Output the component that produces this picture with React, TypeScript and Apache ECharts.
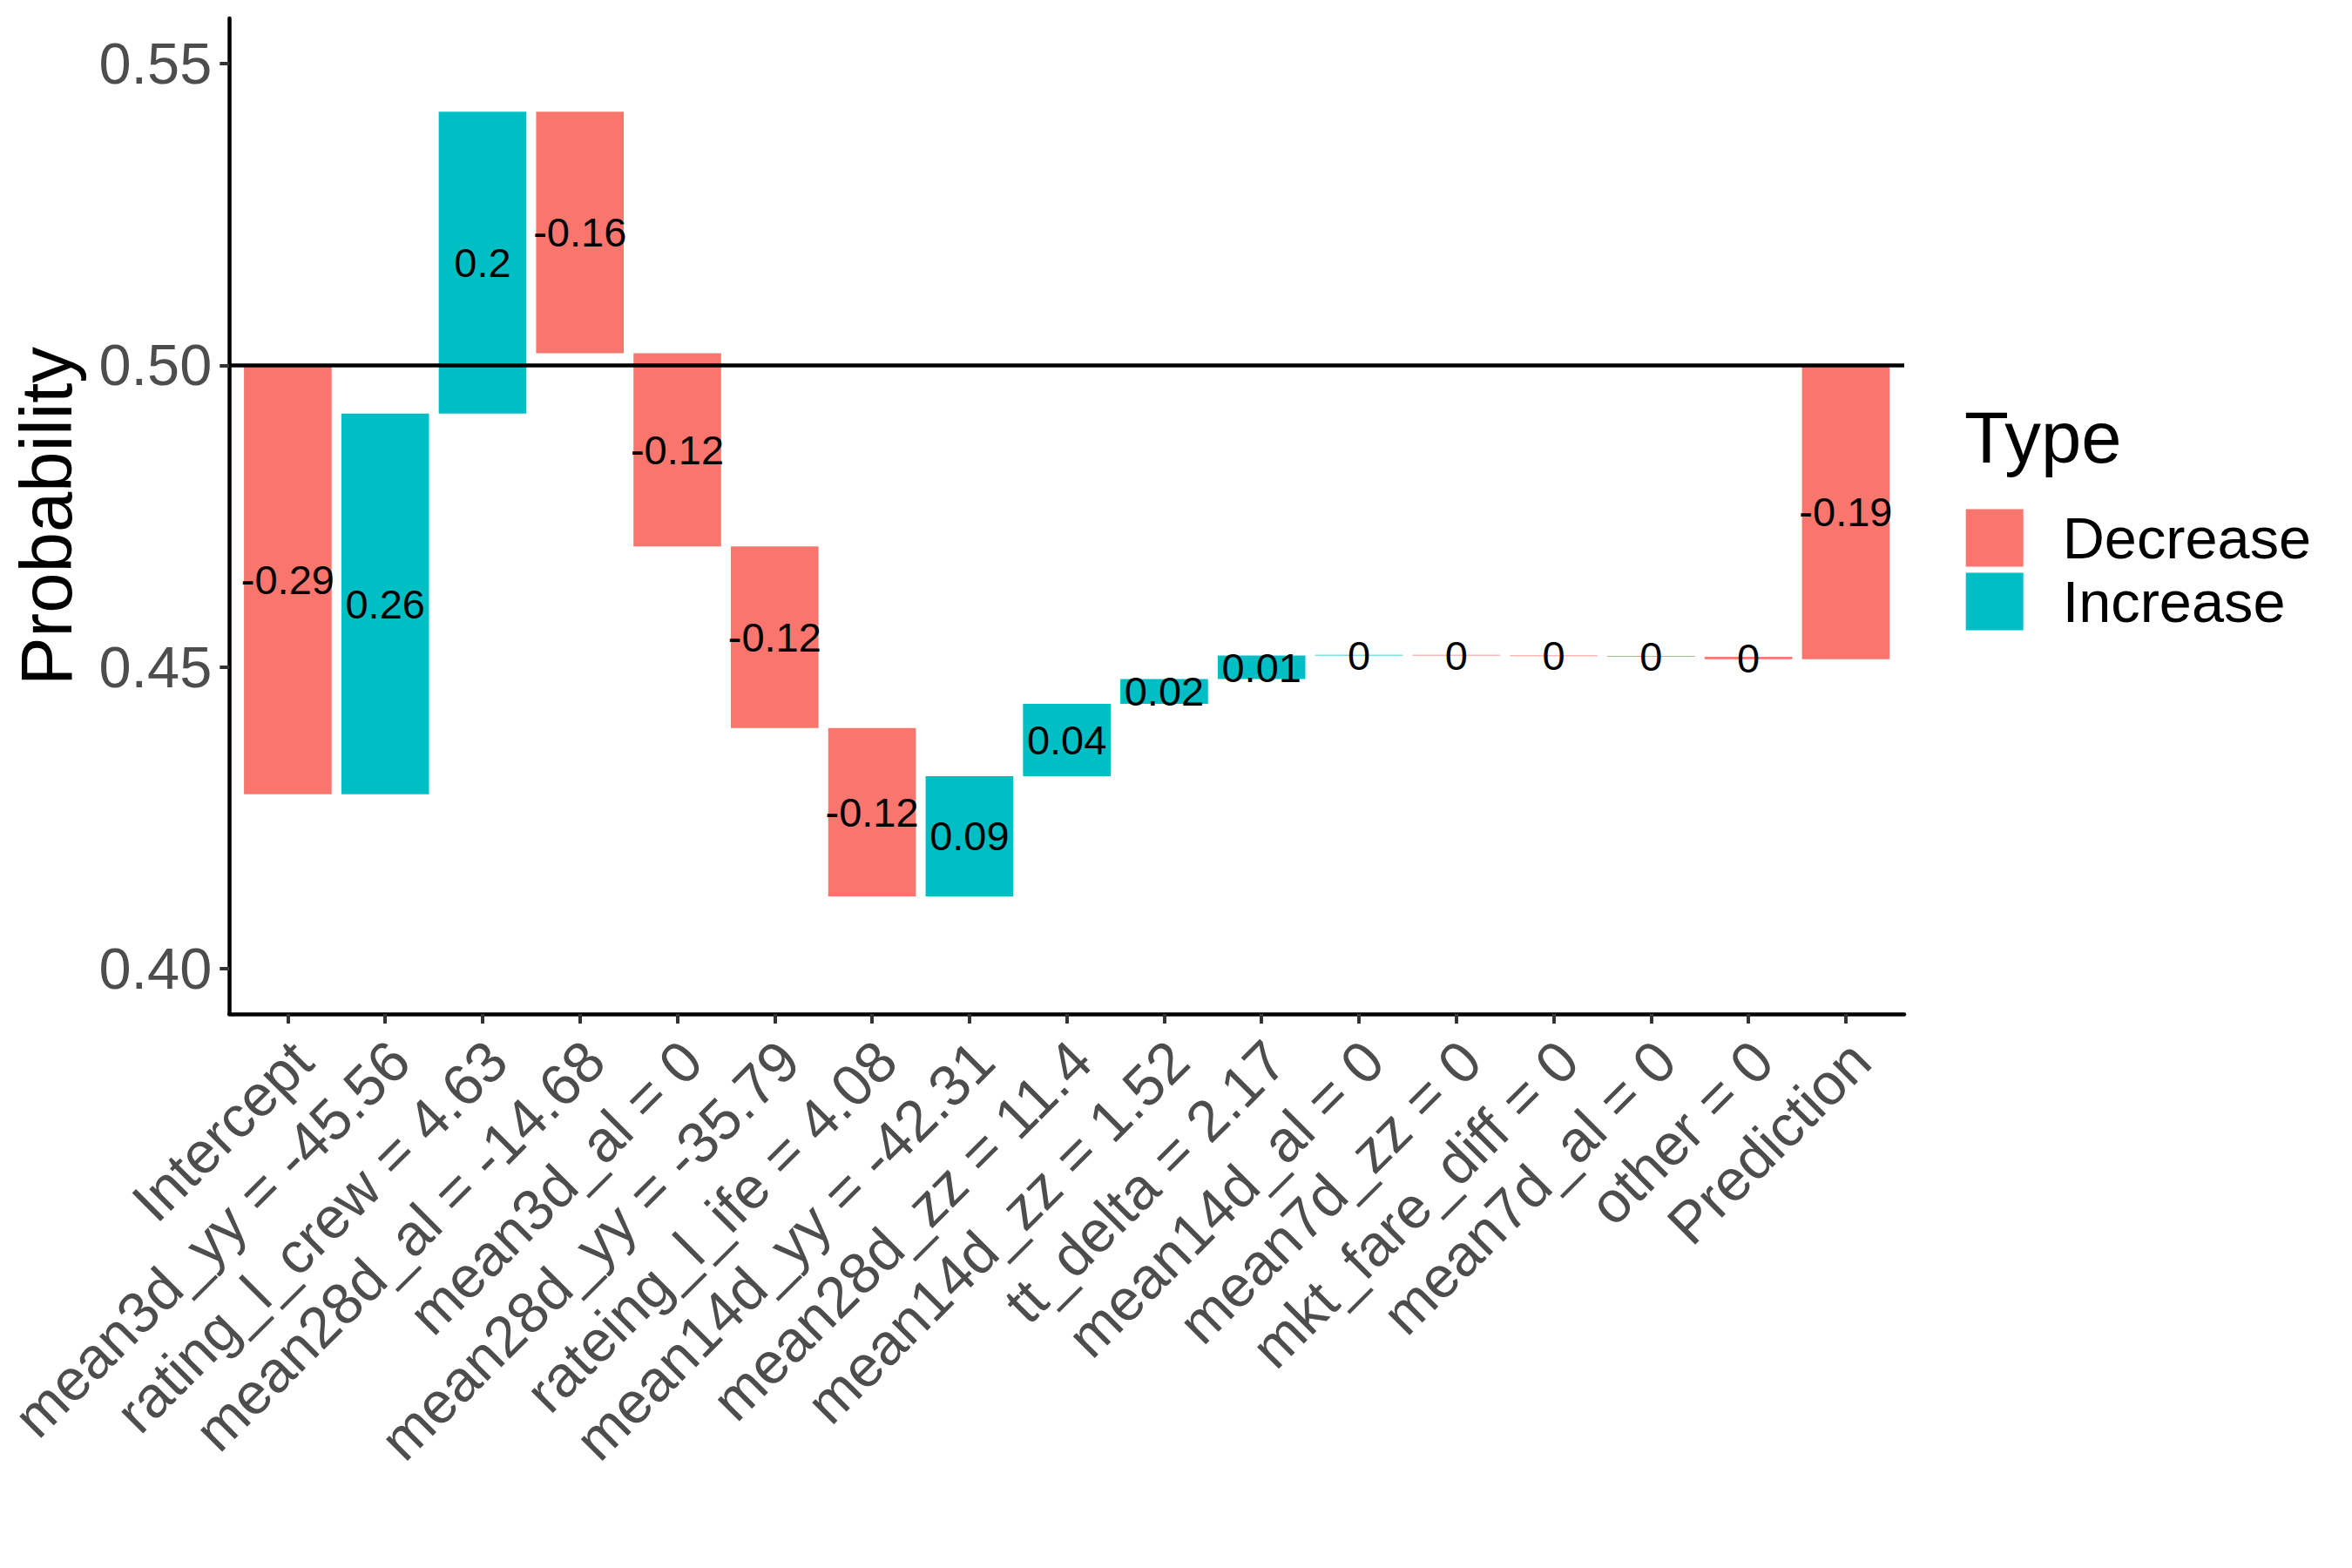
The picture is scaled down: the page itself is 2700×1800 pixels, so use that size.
import React, { useEffect, useRef } from "react";
import * as echarts from "echarts";

const FONT = "'Liberation Sans', Arial, Helvetica, sans-serif";

const categories = [
  "Intercept",
  "mean3d_yy = -45.56",
  "rating_l_crew = 4.63",
  "mean28d_al = -14.68",
  "mean3d_al = 0",
  "mean28d_yy = -35.79",
  "rateing_l_ife = 4.08",
  "mean14d_yy = -42.31",
  "mean28d_zz = 11.4",
  "mean14d_zz = 1.52",
  "tt_delta = 2.17",
  "mean14d_al = 0",
  "mean7d_zz = 0",
  "mkt_fare_diff = 0",
  "mean7d_al = 0",
  "other = 0",
  "Prediction",
];

const barStart = [
  0.5, 0.4289, 0.492, 0.542, 0.502, 0.47, 0.4399, 0.412, 0.4319, 0.4439, 0.448,
  0.4519, 0.452, 0.4519, 0.4518, 0.4517, 0.5,
];
const barEnd = [
  0.4289, 0.492, 0.542, 0.502, 0.47, 0.4399, 0.412, 0.4319, 0.4439, 0.448, 0.4519,
  0.452, 0.4519, 0.4518, 0.4517, 0.4513, 0.4513,
];
const barLabels = [
  "-0.29", "0.26", "0.2", "-0.16", "-0.12", "-0.12", "-0.12", "0.09", "0.04",
  "0.02", "0.01", "0", "0", "0", "0", "0", "-0.19",
];
const barTypes = [
  "Decrease", "Increase", "Increase", "Decrease", "Decrease", "Decrease", "Decrease",
  "Increase", "Increase", "Increase", "Increase", "Increase", "Decrease", "Decrease",
  "Decrease", "Decrease", "Decrease",
];

const typeNames = ["Decrease", "Increase"];
const typeColors = ["#F8766D", "#00BFC4"];

const yTicks = [0.4, 0.45, 0.5, 0.55];
const yMin = 0.3925;
const yMax = 0.5575;
const refLine = 0.5;

const App: React.FC = () => {
  const ref = useRef<HTMLDivElement>(null);

  useEffect(() => {
    if (!ref.current) return;
    const chart = echarts.init(ref.current, null, { renderer: "svg" });

    const series: any[] = typeNames.map((name, k) => ({
      type: "custom",
      name,
      xAxisIndex: 0,
      yAxisIndex: 0,
      itemStyle: { color: typeColors[k] },
      encode: { x: 0, y: [1, 2] },
      data: categories
        .map((_, i) => [i, barStart[i], barEnd[i]])
        .filter((_, i) => barTypes[i] === name),
      renderItem: (params: any, api: any) => {
        const idx = api.value(0);
        const a = api.coord([idx, api.value(1)]);
        const b = api.coord([idx, api.value(2)]);
        const w = api.size([1, 0])[0] * 0.9;
        const top = Math.min(a[1], b[1]);
        const h = Math.abs(a[1] - b[1]);
        return {
          type: "group",
          children: [
            {
              type: "rect",
              shape: { x: a[0] - w / 2, y: top, width: w, height: h },
              style: { fill: typeColors[k] },
            },
            {
              type: "text",
              x: a[0],
              y: top + h / 2,
              z2: 10,
              style: {
                text: barLabels[idx],
                fill: "#000000",
                fontSize: 47,
                fontFamily: FONT,
                align: "center",
                verticalAlign: "middle",
              },
            },
          ],
        };
      },
    }));

    series.push({
      type: "line",
      xAxisIndex: 1,
      yAxisIndex: 1,
      z: 5,
      data: [[0, refLine]],
      showSymbol: false,
      symbol: "none",
      lineStyle: { width: 0 },
      silent: true,
      markLine: {
        silent: true,
        symbol: "none",
        label: { show: false },
        lineStyle: { color: "#000000", width: 4.5, type: "solid" },
        data: [{ yAxis: refLine }],
      },
    });

    const option: any = {
      animation: false,
      backgroundColor: "#ffffff",
      textStyle: { fontFamily: FONT },
      title: {
        text: "Type",
        left: 2255,
        top: 461,
        padding: 0,
        textStyle: {
          fontSize: 83.3,
          fontWeight: "normal",
          color: "#000000",
          lineHeight: 83,
          fontFamily: FONT,
        },
      },
      legend: {
        data: typeNames,
        orient: "vertical",
        left: 2256.7,
        top: 584,
        padding: 0,
        itemWidth: 66,
        itemHeight: 66,
        itemGap: 6,
        icon: "rect",
        selectedMode: false,
        textStyle: {
          fontSize: 66.7,
          color: "#000000",
          fontFamily: FONT,
          lineHeight: 66,
          padding: [0, 0, 0, 40],
        },
      },
      grid: [
        {
          left: 274.5,
          right: 525.2,
          top: 21,
          bottom: 636,
          outerBoundsMode: "none",
          containLabel: false,
        },
        {
          left: 263.3,
          right: 514,
          top: 21,
          bottom: 636,
          outerBoundsMode: "none",
          containLabel: false,
        },
      ],
      xAxis: [
        {
          type: "category",
          gridIndex: 0,
          data: categories,
          axisLine: { show: false },
          axisTick: {
            show: true,
            alignWithLabel: true,
            length: 11,
            lineStyle: { color: "#333333", width: 4 },
          },
          axisLabel: {
            interval: 0,
            rotate: 45,
            align: "right",
            verticalAlign: "top",
            lineHeight: 47,
            margin: 26,
            fontSize: 66.7,
            color: "#4D4D4D",
            fontFamily: FONT,
          },
          splitLine: { show: false },
        },
        {
          type: "value",
          gridIndex: 1,
          min: 0,
          max: 1,
          axisLine: { show: true, onZero: false, lineStyle: { color: "#000000", width: 4.5 } },
          axisTick: { show: false },
          axisLabel: { show: false },
          splitLine: { show: false },
        },
      ],
      yAxis: [
        {
          type: "value",
          gridIndex: 0,
          min: yMin,
          max: yMax,
          show: false,
          splitLine: { show: false },
        },
        {
          type: "value",
          gridIndex: 1,
          min: yMin,
          max: yMax,
          name: "Probability",
          nameLocation: "middle",
          nameGap: 168,
          nameTextStyle: {
            fontSize: 83.3,
            color: "#000000",
            lineHeight: 83,
            fontFamily: FONT,
          },
          axisLine: { show: true, onZero: false, lineStyle: { color: "#000000", width: 4.5 } },
          axisTick: {
            show: true,
            length: 11,
            customValues: yTicks,
            lineStyle: { color: "#333333", width: 4 },
          },
          axisLabel: {
            show: true,
            customValues: yTicks,
            margin: 20,
            fontSize: 66.7,
            color: "#4D4D4D",
            fontFamily: FONT,
            formatter: (v: number) => v.toFixed(2),
          },
          splitLine: { show: false },
        },
      ],
      series,
    };

    chart.setOption(option);
    return () => {
      chart.dispose();
    };
  }, []);

  return (
    <div
      ref={ref}
      style={{
        position: "absolute",
        left: 0,
        top: 0,
        width: 2700,
        height: 1800,
        background: "#ffffff",
      }}
    />
  );
};

export default App;
